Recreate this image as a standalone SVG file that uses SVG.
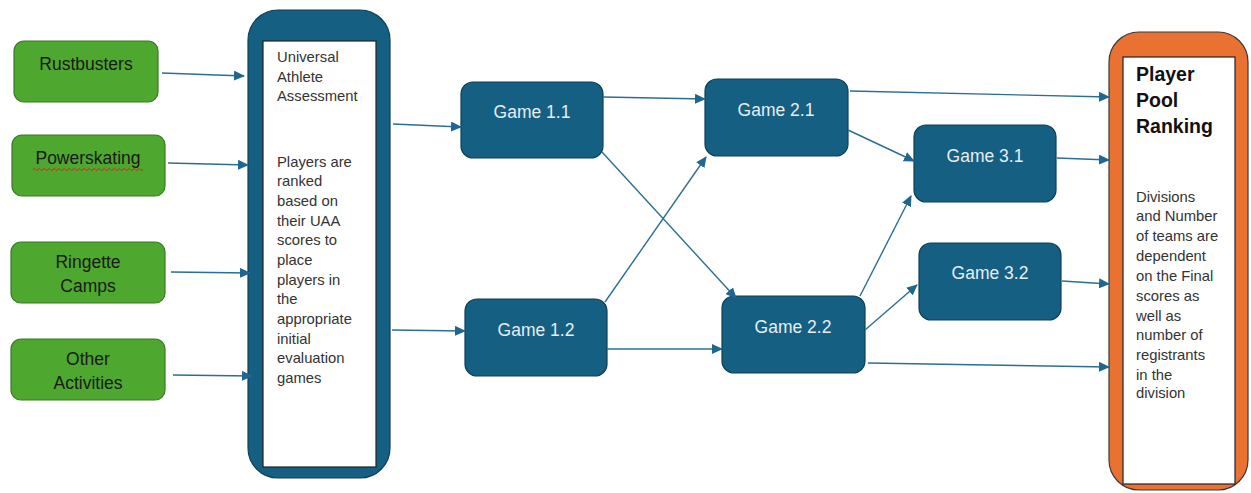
<svg xmlns="http://www.w3.org/2000/svg" width="1251" height="493" viewBox="0 0 1251 493">
<style>
.green{fill:#4ea72e;stroke:#3a7a22;stroke-width:1.2}
.gtxt{font-family:"Liberation Sans",Arial,sans-serif;font-size:17.5px;fill:#1a1a1a;text-anchor:middle}
.game{fill:#155f82;stroke:#0e3f57;stroke-width:1.2}
.gmtxt{font-family:"Liberation Sans",Arial,sans-serif;font-size:17.5px;fill:#e6eef3;text-anchor:middle}
.inner{fill:#ffffff;stroke:#222;stroke-width:1.2}
.btxt{font-family:"Liberation Sans",Arial,sans-serif;font-size:14.8px;fill:#333}
.ptitle{font-family:"Liberation Sans",Arial,sans-serif;font-size:19.5px;font-weight:bold;fill:#111}
.conn{stroke:#2a6f93;stroke-width:1.4;fill:none;marker-end:url(#ah)}
</style>
<defs>
<marker id="ah" markerUnits="userSpaceOnUse" markerWidth="11" markerHeight="10" refX="10" refY="5" orient="auto">
<path d="M0,0 L11,5 L0,10 z" fill="#1f6690"/>
</marker>
</defs>
<rect width="1251" height="493" fill="#ffffff"/>

<g id="rustbusters">
<rect class="green" x="14" y="41" width="144" height="61" rx="10"/>
<text class="gtxt" x="86" y="70">Rustbusters</text>
</g>
<g id="powerskating">
<rect class="green" x="12" y="135" width="153" height="61" rx="10"/>
<text class="gtxt" x="88" y="164">Powerskating</text>
<path d="M33,169.5 q1.25,-2 2.5,0 t2.5,0 t2.5,0 t2.5,0 t2.5,0 t2.5,0 t2.5,0 t2.5,0 t2.5,0 t2.5,0 t2.5,0 t2.5,0 t2.5,0 t2.5,0 t2.5,0 t2.5,0 t2.5,0 t2.5,0 t2.5,0 t2.5,0 t2.5,0 t2.5,0 t2.5,0 t2.5,0 t2.5,0 t2.5,0 t2.5,0 t2.5,0 t2.5,0 t2.5,0 t2.5,0 t2.5,0 t2.5,0 t2.5,0 t2.5,0 t2.5,0 t2.5,0 t2.5,0 t2.5,0 t2.5,0 t2.5,0 t2.5,0 t2.5,0 t2.5,0" fill="none" stroke="#e0201a" stroke-width="1"/>
</g>
<g id="ringette">
<rect class="green" x="11" y="242" width="154" height="61" rx="10"/>
<text class="gtxt" x="88" y="268">Ringette</text>
<text class="gtxt" x="88" y="292">Camps</text>
</g>
<g id="other">
<rect class="green" x="11" y="339" width="154" height="61" rx="10"/>
<text class="gtxt" x="88" y="365">Other</text>
<text class="gtxt" x="88" y="389">Activities</text>
</g>

<g id="uaa">
<rect x="248" y="10" width="142" height="468" rx="30" fill="#155f82" stroke="#0e3f57" stroke-width="1.2"/>
<rect class="inner" x="263" y="41" width="113" height="426"/>
<text class="btxt">
<tspan x="277" y="62">Universal</tspan>
<tspan x="277" y="82">Athlete</tspan>
<tspan x="277" y="101">Assessment</tspan>
<tspan x="277" y="167">Players are</tspan>
<tspan x="277" y="186">ranked</tspan>
<tspan x="277" y="206">based on</tspan>
<tspan x="277" y="226">their UAA</tspan>
<tspan x="277" y="245">scores to</tspan>
<tspan x="277" y="265">place</tspan>
<tspan x="277" y="285">players in</tspan>
<tspan x="277" y="304">the</tspan>
<tspan x="277" y="324">appropriate</tspan>
<tspan x="277" y="344">initial</tspan>
<tspan x="277" y="363">evaluation</tspan>
<tspan x="277" y="383">games</tspan>
</text>
</g>

<g id="game11">
<rect class="game" x="461" y="82" width="142" height="76" rx="12"/>
<text class="gmtxt" x="532" y="118">Game 1.1</text>
</g>
<g id="game12">
<rect class="game" x="465" y="299" width="142" height="77" rx="12"/>
<text class="gmtxt" x="536" y="336">Game 1.2</text>
</g>
<g id="game21">
<rect class="game" x="705" y="79" width="143" height="77" rx="12"/>
<text class="gmtxt" x="776" y="116">Game 2.1</text>
</g>
<g id="game22">
<rect class="game" x="722" y="296" width="143" height="77" rx="12"/>
<text class="gmtxt" x="793" y="333">Game 2.2</text>
</g>
<g id="game31">
<rect class="game" x="914" y="125" width="142" height="77" rx="12"/>
<text class="gmtxt" x="985" y="162">Game 3.1</text>
</g>
<g id="game32">
<rect class="game" x="919" y="243" width="142" height="77" rx="12"/>
<text class="gmtxt" x="990" y="279">Game 3.2</text>
</g>

<g id="ranking">
<rect x="1109" y="32" width="139" height="458" rx="30" fill="#e97132" stroke="#3a3a3a" stroke-width="1.2"/>
<rect class="inner" x="1123" y="57" width="112" height="427"/>
<text class="ptitle">
<tspan x="1136" y="81">Player</tspan>
<tspan x="1136" y="107">Pool</tspan>
<tspan x="1136" y="133">Ranking</tspan>
</text>
<text class="btxt">
<tspan x="1136" y="202">Divisions</tspan>
<tspan x="1136" y="221">and Number</tspan>
<tspan x="1136" y="241">of teams are</tspan>
<tspan x="1136" y="261">dependent</tspan>
<tspan x="1136" y="281">on the Final</tspan>
<tspan x="1136" y="301">scores as</tspan>
<tspan x="1136" y="321">well as</tspan>
<tspan x="1136" y="340">number of</tspan>
<tspan x="1136" y="360">registrants</tspan>
<tspan x="1136" y="380">in the</tspan>
<tspan x="1136" y="398">division</tspan>
</text>
</g>

<g id="connectors">
<line class="conn" x1="162" y1="73" x2="244" y2="76"/>
<line class="conn" x1="168" y1="163" x2="248" y2="165"/>
<line class="conn" x1="171" y1="272" x2="250" y2="273"/>
<line class="conn" x1="173" y1="375" x2="252" y2="376"/>
<line class="conn" x1="393" y1="124" x2="461" y2="127"/>
<line class="conn" x1="392" y1="330" x2="465" y2="331"/>
<line class="conn" x1="603" y1="97" x2="705" y2="99"/>
<line class="conn" x1="602" y1="152" x2="736" y2="298"/>
<line class="conn" x1="605" y1="302" x2="706" y2="157"/>
<line class="conn" x1="607" y1="349" x2="722" y2="349"/>
<line class="conn" x1="850" y1="91" x2="1109" y2="97"/>
<line class="conn" x1="848" y1="130" x2="914" y2="161"/>
<line class="conn" x1="1057" y1="158" x2="1109" y2="160"/>
<line class="conn" x1="860" y1="296" x2="911" y2="196"/>
<line class="conn" x1="865" y1="330" x2="917" y2="285"/>
<line class="conn" x1="1062" y1="281" x2="1109" y2="284"/>
<line class="conn" x1="868" y1="363" x2="1109" y2="367"/>
</g>
</svg>
